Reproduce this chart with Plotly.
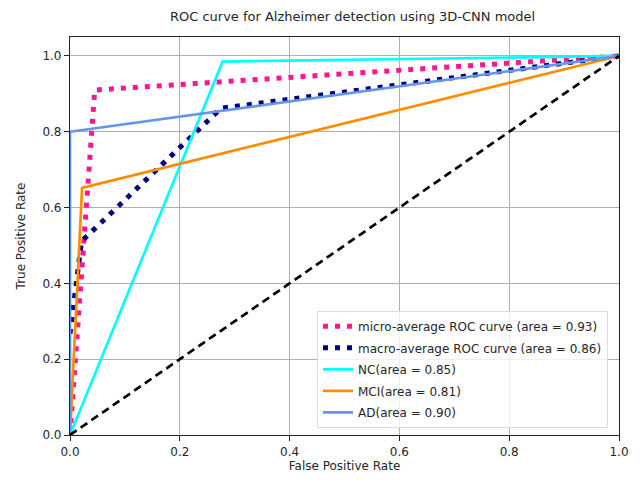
import plotly.graph_objects as go

# ROC points per curve (false positive rate, true positive rate)
micro_fpr = [0.0, 0.045, 1.0]
micro_tpr = [0.0, 0.910, 1.0]
macro_fpr = [0.0, 0.021, 0.275, 1.0]
macro_tpr = [0.267, 0.511, 0.862, 1.0]
nc_fpr = [0.0, 0.278, 1.0]
nc_tpr = [0.0, 0.985, 1.0]
mci_fpr = [0.0, 0.022, 1.0]
mci_tpr = [0.0, 0.652, 1.0]
ad_fpr = [0.0, 0.0, 1.0]
ad_tpr = [0.0, 0.800, 1.0]
chance = [0.0, 1.0]

labels = [
    "micro-average ROC curve (area = 0.93)",
    "macro-average ROC curve (area = 0.86)",
    "NC(area = 0.85)",
    "MCI(area = 0.81)",
    "AD(area = 0.90)",
]
ticks = [0.0, 0.2, 0.4, 0.6, 0.8, 1.0]

FONT = "DejaVu Sans"
TXT = "#262626"
fig = go.Figure()
fig.add_trace(go.Scatter(x=micro_fpr, y=micro_tpr, mode="lines", name=labels[0], legendgroup="g0",
                         line=dict(color="#ff1493", width=5, dash="5px,7px")))
fig.add_trace(go.Scatter(x=macro_fpr, y=macro_tpr, mode="lines", name=labels[1], legendgroup="g1",
                         line=dict(color="#000080", width=5, dash="5px,7px")))
fig.add_trace(go.Scatter(x=nc_fpr, y=nc_tpr, mode="lines", name=labels[2], legendgroup="g2",
                         line=dict(color="#00ffff", width=2.7)))
fig.add_trace(go.Scatter(x=mci_fpr, y=mci_tpr, mode="lines", name=labels[3], legendgroup="g3",
                         line=dict(color="#ff8c00", width=2.7)))
fig.add_trace(go.Scatter(x=ad_fpr, y=ad_tpr, mode="lines", name=labels[4], legendgroup="g4",
                         line=dict(color="#6495ed", width=2.7)))
fig.add_trace(go.Scatter(x=chance, y=chance, mode="lines", showlegend=False,
                         line=dict(color="black", width=2.7, dash="8px,5px")))

axis_common = dict(
    showgrid=True, gridcolor="#b0b0b0", gridwidth=1.2,
    showline=True, linecolor="#222", linewidth=1.2, mirror=True,
    ticks="outside", ticklen=5, tickcolor="#222", tickwidth=1.2,
    tickvals=ticks, tickformat=".1f", zeroline=False,
    tickfont=dict(family=FONT, size=12, color=TXT),
    title_font=dict(family=FONT, size=12, color=TXT),
)

fig.update_layout(
    width=641, height=484,
    margin=dict(l=70, r=18, t=37, b=49),
    paper_bgcolor="white", plot_bgcolor="white",
    title=dict(text="ROC curve for Alzheimer detection using 3D-CNN model",
               x=0.55, xanchor="center", y=0.965, yanchor="middle",
               font=dict(family=FONT, size=13, color=TXT)),
    xaxis=dict(range=[0, 1.0], title=dict(text="False Positive Rate", standoff=4), **axis_common),
    yaxis=dict(range=[0, 1.05], title=dict(text="True Positive Rate", standoff=14), **axis_common),
    legend=dict(x=0.98, y=0.018, xanchor="right", yanchor="bottom",
                bgcolor="rgba(255,255,255,0.8)", bordercolor="#dddddd", borderwidth=1,
                font=dict(family=FONT, size=12, color=TXT),
                itemwidth=30, tracegroupgap=2.5),
    showlegend=True,
)

fig.write_html("out.html")
